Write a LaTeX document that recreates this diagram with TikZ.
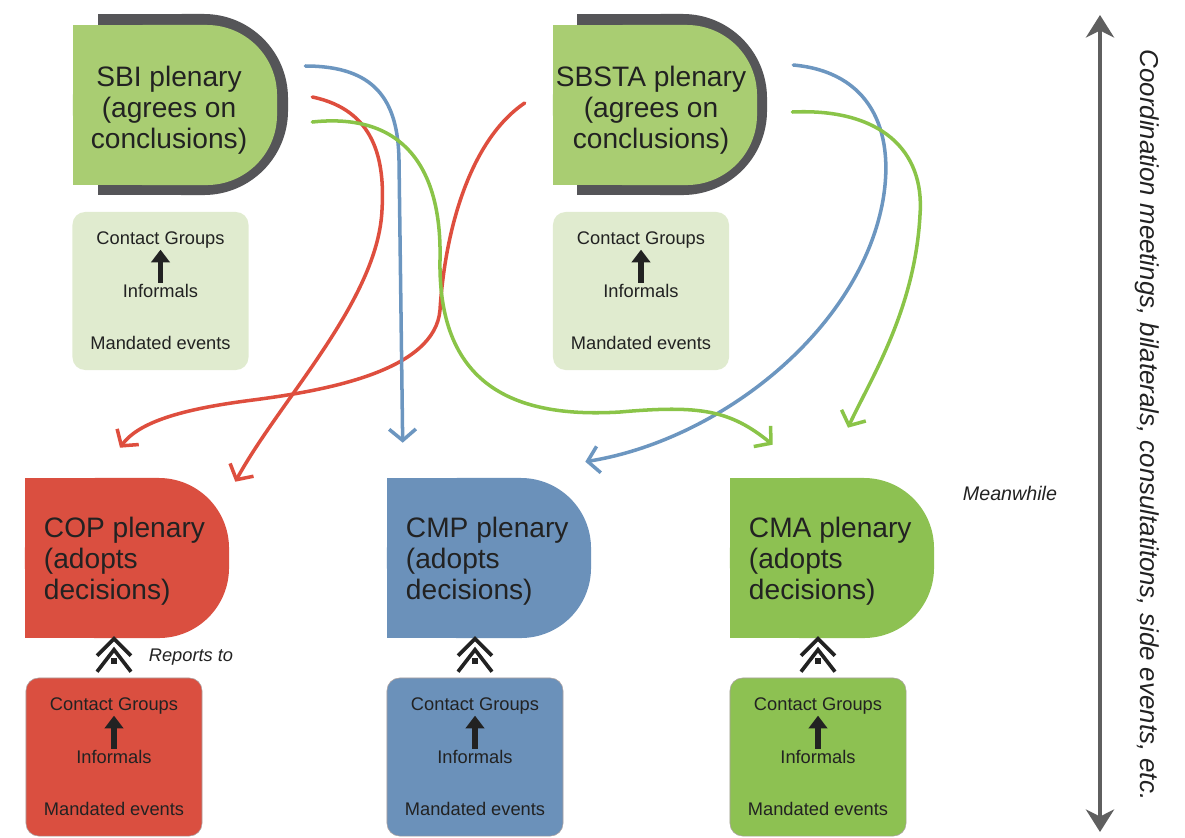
\documentclass[tikz,border=0pt]{standalone}
\usepackage{fontspec}
\setmainfont{Liberation Sans}
\usepackage{tikz}
\usetikzlibrary{calc,positioning,arrows.meta}
\pgfdeclarelayer{background}
\pgfsetlayers{background,main}
\definecolor{sbigreen}{RGB}{169,205,114}
\definecolor{darkshadow}{RGB}{85,85,88}
\definecolor{lightbox}{RGB}{224,235,207}
\definecolor{copred}{RGB}{218,79,64}
\definecolor{cmpblue}{RGB}{107,145,186}
\definecolor{cmagreen}{RGB}{141,193,82}
\definecolor{curvered}{RGB}{222,78,62}
\definecolor{curveblue}{RGB}{108,150,192}
\definecolor{curvegreen}{RGB}{138,196,72}
\definecolor{textgrey}{RGB}{34,34,34}
\definecolor{axisgrey}{RGB}{95,95,95}
\definecolor{boxedge}{RGB}{170,160,160}
\tikzset{
    plenary/.style={
        rectangle,
        rounded corners=50pt,
        minimum width=5.1cm,
        minimum height=4cm,
        inner sep=0pt
    },
    plenarytext/.style={
        inner sep=0pt,
        text=textgrey,
        font={\fontsize{20pt}{22pt}\selectfont}
    },
    shadowbox/.style={
        rectangle,
        rounded corners=60pt,
        fill=darkshadow,
        minimum width=4.75cm,
        minimum height=4.525cm
    },
    groupbox/.style={
        rectangle,
        rounded corners=9pt,
        minimum width=4.4cm,
        minimum height=3.95cm
    },
    small/.style={
        inner sep=1pt,
        text=textgrey,
        font={\fontsize{13pt}{15pt}\selectfont}
    },
    note/.style={
        text=textgrey,
        font={\itshape\fontsize{13pt}{15pt}\selectfont}
    },
    uparrow/.style={draw=textgrey, line width=3.6pt, -{Triangle[length=9pt,width=13pt]}},
    flow/.style={line width=2.5pt, line cap=round, -{Straight Barb[length=8pt,width=19pt]}},
    reportsto/.pic={
        \draw[line width=2.6pt, textgrey] (-17,-22) -- (0,-39) -- (17,-22);
        \draw[line width=2.6pt, textgrey] (-17,-6) -- (0,-28) -- (17,-6);
        \fill[textgrey] (-3,-14) rectangle (3,-20);
    },
}
\begin{document}
\begin{tikzpicture}[x=0.025cm, y=-0.025cm]
\useasboundingbox (0,0) rectangle (1185,837);

% plenaries
\node[plenary, fill=sbigreen] (sbi) at (175,105) {};
\node[plenary, fill=sbigreen] (sbsta) at (655,105) {};
\node[plenary, fill=copred] (cop) at (127,558) {};
\node[plenary, fill=cmpblue] (cmp) at (489,558) {};
\node[plenary, fill=cmagreen] (cma) at (832,558) {};

\node[plenarytext, align=center] (sbi-text) at ($(sbi.center)+(-6,5)$) {SBI plenary\\(agrees on\\conclusions)};
\node[plenarytext, align=center] (sbsta-text) at ($(sbsta.center)+(-4,5)$) {SBSTA plenary\\(agrees on\\conclusions)};
\foreach \n/\t in {cop/COP,cmp/CMP,cma/CMA}
    \node[plenarytext, anchor=west, align=left] (\n-text) at ($(\n.west)+(19,3)$) {\t{} plenary\\(adopts\\decisions)};

\begin{pgfonlayer}{background}
    \node[shadowbox] (sbishadow) at (193,104.5) {};
    \node[shadowbox] (sbstashadow) at (672,104.5) {};
    \foreach \n in {sbishadow,sbstashadow}
        \fill[darkshadow] (\n.north west) rectangle (\n.south);
    \foreach \n/\c in {sbi/sbigreen,sbsta/sbigreen,cop/copred,cmp/cmpblue,cma/cmagreen}
        \fill[\c] (\n.north west) rectangle (\n.south);
\end{pgfonlayer}

% groups
\node[groupbox, fill=lightbox] (sbibox) at (160.5,291) {};
\node[groupbox, fill=lightbox] (sbstabox) at (641,291) {};
\node[groupbox, fill=copred, draw=boxedge] (copbox) at (114,757) {};
\node[groupbox, fill=cmpblue, draw=boxedge] (cmpbox) at (475,757) {};
\node[groupbox, fill=cmagreen, draw=boxedge] (cmabox) at (818,757) {};

\foreach \b in {sbibox,sbstabox,copbox,cmpbox,cmabox}{
    \node[small] (\b-cg) at ($(\b.north)+(0,28)$) {Contact Groups};
    \node[small] (\b-inf) at (\b.center) {Informals};
    \node[small] (\b-me) at ($(\b.south)+(0,-27)$) {Mandated events};
    \draw[uparrow] (\b-inf) -- (\b-cg);
}
\foreach \b in {copbox,cmpbox,cmabox}
    \pic at (\b.north) {reportsto};

\node[note] (reports) at (191,657) {Reports to};
\node[note, font={\itshape\fontsize{14pt}{16pt}\selectfont}] (meanwhile) at (1010,493) {Meanwhile};

% flows
\draw[flow, curvered] ($(sbi.east)+(35,-8)$) .. controls (375,110) and (385,160) .. (382,210)
    .. controls (378,300) and (280,400) .. ($(cop.north east)+(6,4)$);
\draw[flow, curvered] ($(sbsta.west)+(-28,-2)$) .. controls (470,140) and (445,230) .. (440,310)
    .. controls (435,370) and (330,390) .. (253,400)
    .. controls (190,408) and (140,420) .. ($(cop.north)+(-7,-30)$);
\draw[flow, curveblue] ($(sbi.east)+(28,-39)$) .. controls (375,66) and (398,100) .. (399,160)
    -- ($(cmp.north west)+(16,-35)$);
\draw[flow, curveblue] ($(sbsta.east)+(36,-40)$) .. controls (870,72) and (895,130) .. (883,200)
    .. controls (860,330) and (720,440) .. ($(cmp.north east)+(-6,-16)$);
\draw[flow, curvegreen] ($(sbi.east)+(35,17)$) .. controls (405,112) and (442,170) .. (440,260)
    .. controls (438,390) and (520,418) .. (620,412)
    .. controls (700,405) and (730,410) .. ($(cma.north west)+(43,-33)$);
\draw[flow, curvegreen] ($(sbsta.east)+(35,7)$) .. controls (880,108) and (925,150) .. (920,215)
    .. controls (915,310) and (870,380) .. ($(cma.north)+(16,-50)$);

% side axis
\coordinate (axistop) at (1100,15);
\coordinate (axisbottom) at (1100,832);
\draw[axisgrey, line width=2.8pt, {Stealth[length=16pt,width=20pt,inset=5pt]}-{Stealth[length=16pt,width=20pt,inset=5pt]}] (axistop) -- (axisbottom);
\node[note, rotate=-90, font={\itshape\fontsize{18.4pt}{20pt}\selectfont}] (sidetext) at (1147,425)
    {Coordination meetings, bilaterals, consultatitons, side events, etc.};
\end{tikzpicture}
\end{document}
